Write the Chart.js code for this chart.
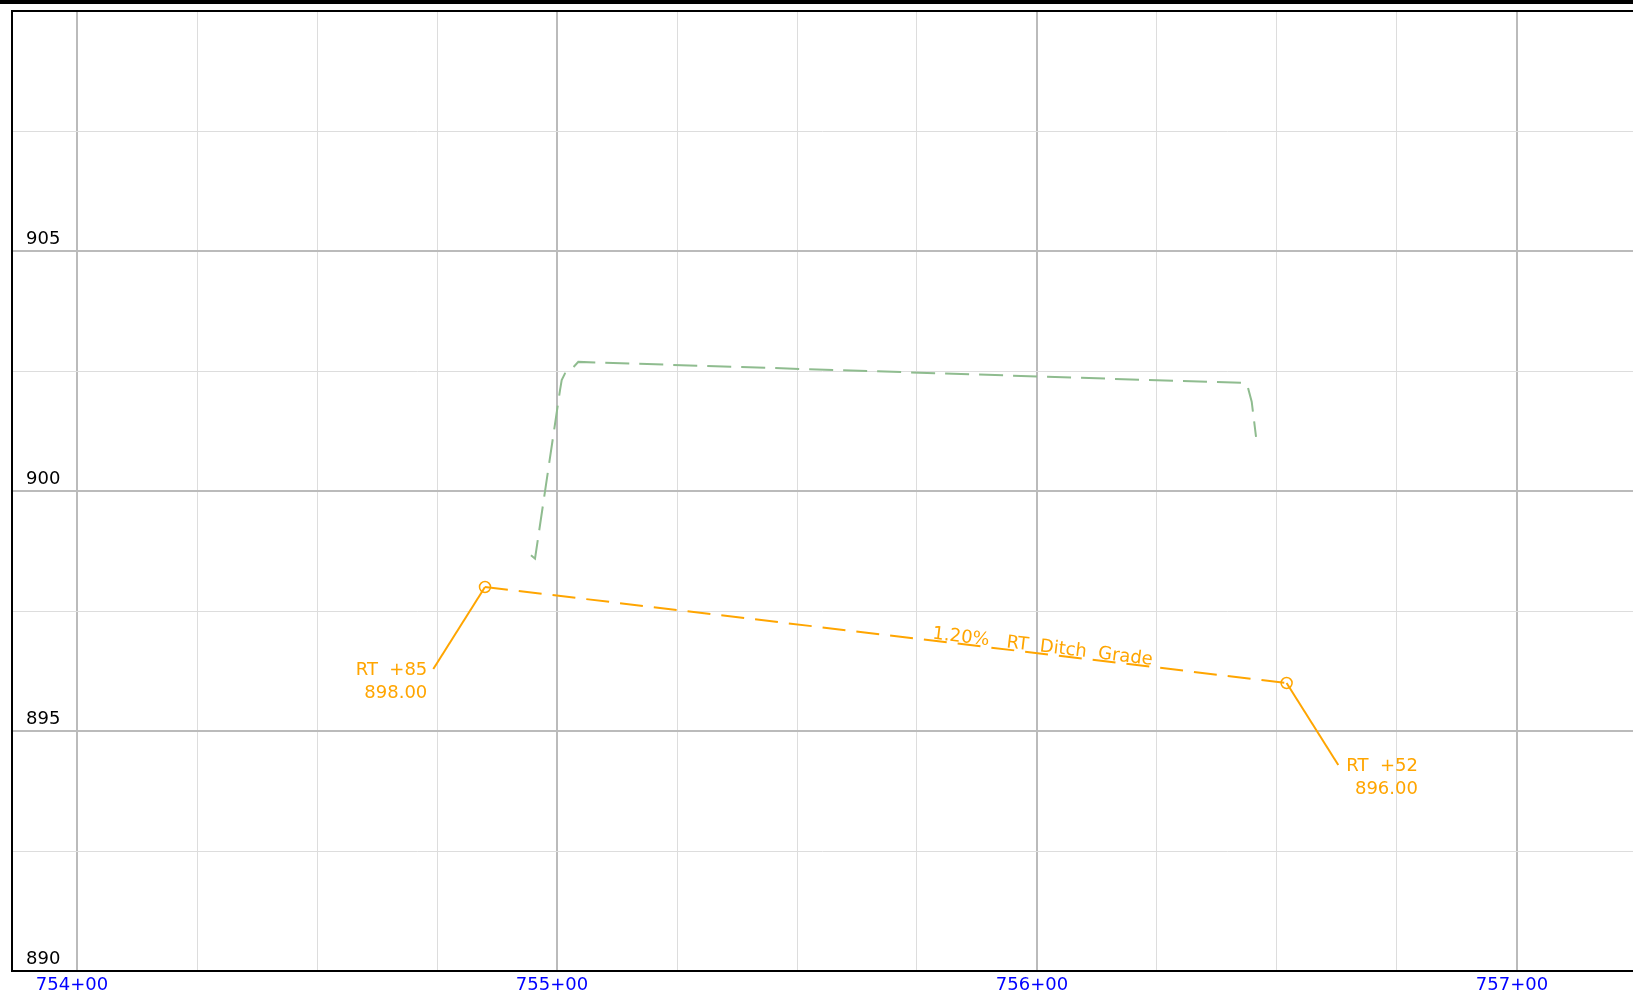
<!DOCTYPE html>
<html>
<head>
<meta charset="utf-8">
<script src="https://cdn.jsdelivr.net/npm/chart.js"></script>
<style>
  body { margin: 0; background: #fff; }
</style>
</head>
<body>
<canvas id="profile" width="1633" height="993"></canvas>
<script>
// tick labels
const xMajorStations = [75400, 75500, 75600, 75700];
const xTickLabels = ['754+00', '755+00', '756+00', '757+00'];
const yMajorElevs = [890, 895, 900, 905];
const yTickLabels = ['890', '895', '900', '905'];

// existing ground (green dashed)
const groundStations = [75494.58, 75495.42, 75500.63, 75500.98, 75501.67, 75503.06, 75504.44, 75643.33, 75643.90, 75644.73, 75645.63];
const groundElevs = [898.66, 898.59, 902.10, 902.31, 902.45, 902.54, 902.69, 902.25, 902.17, 901.86, 901.13];

// ditch grade points (orange)
const ditchStations = [75485, 75652];
const ditchElevs = [898.00, 896.00];
const leaderStations = [75474.23, 75662.77];
const leaderElevs = [896.29, 894.29];
const ditchLabels = [['RT  +85', '898.00'], ['RT  +52', '896.00']];
const gradeText = '1.20%   RT  Ditch  Grade';
const gradeLabelStation = 75601;

const orange = '#ffa500';
const green = '#8fbc8f';
const font = '"DejaVu Sans", sans-serif';

function pts(xs, ys) {
    return xs.map(function(v, i) { return {x: v, y: ys[i]}; });
}

var xGrid = [];
for (var s = 75400; s <= 75700; s += 25) xGrid.push(s);
var yGrid = [];
for (var e = 890; e < 910; e += 2.5) yGrid.push(e);

var overlay = {
    id: 'overlay',
    afterDatasetsDraw: function(chart) {
        var ctx = chart.ctx, x = chart.scales.x, y = chart.scales.y;
        var x1 = x.getPixelForValue(ditchStations[0]), y1 = y.getPixelForValue(ditchElevs[0]);
        var x2 = x.getPixelForValue(ditchStations[1]), y2 = y.getPixelForValue(ditchElevs[1]);
        ctx.save();
        ctx.font = '18px ' + font;
        ctx.fillStyle = orange;

        // grade label along the line
        var gx = x.getPixelForValue(gradeLabelStation);
        var gy = y1 + (gx - x1) * (y2 - y1) / (x2 - x1);
        ctx.save();
        ctx.translate(gx, gy);
        ctx.rotate(Math.atan2(y2 - y1, x2 - x1));
        ctx.textAlign = 'center';
        ctx.textBaseline = 'alphabetic';
        ctx.fillText(gradeText, 0, -2);
        ctx.restore();

        // point labels at leader ends
        ctx.textAlign = 'right';
        ctx.textBaseline = 'alphabetic';
        for (var i = 0; i < ditchLabels.length; i++) {
            var lx = x.getPixelForValue(leaderStations[i]);
            var ly = y.getPixelForValue(leaderElevs[i]);
            var lines = ditchLabels[i];
            var w = Math.max.apply(null, lines.map(function(t) { return ctx.measureText(t).width; }));
            var right = i == 0 ? lx - 6 : lx + 8 + w;
            for (var j = 0; j < lines.length; j++) {
                ctx.fillText(lines[j], right, ly + 6 + j * 22.5);
            }
        }
        ctx.restore();
    },
    afterDraw: function(chart) {
        var ctx = chart.ctx, a = chart.chartArea, W = chart.width;
        ctx.save();
        ctx.fillStyle = '#000';
        ctx.fillRect(0, 0, W, 4);
        ctx.fillRect(a.left - 1, a.top - 1, W, 2);
        ctx.fillRect(a.left - 1, a.top - 1, 2, a.bottom - a.top + 2);
        ctx.fillRect(a.left - 1, a.bottom - 1, W, 2);
        ctx.restore();
    }
};

var ctx = document.getElementById('profile').getContext('2d');

var hchart = new Chart(ctx, {
    type: 'scatter',
    data: {
        datasets: [
            {
                data: pts(groundStations, groundElevs),
                showLine: true,
                borderColor: green,
                borderWidth: 2,
                borderDash: [24, 10],
                pointRadius: 0
            },
            {
                data: pts(ditchStations, ditchElevs),
                showLine: true,
                borderColor: orange,
                borderWidth: 2,
                borderDash: [23, 11],
                pointRadius: 5.5,
                pointBorderWidth: 1.5,
                pointBorderColor: orange,
                pointBackgroundColor: 'rgba(0,0,0,0)'
            },
            {
                data: [{x: ditchStations[0], y: ditchElevs[0]}, {x: leaderStations[0], y: leaderElevs[0]}],
                showLine: true,
                borderColor: orange,
                borderWidth: 2,
                pointRadius: 0
            },
            {
                data: [{x: ditchStations[1], y: ditchElevs[1]}, {x: leaderStations[1], y: leaderElevs[1]}],
                showLine: true,
                borderColor: orange,
                borderWidth: 2,
                pointRadius: 0
            }
        ]
    },
    options: {
        responsive: false,
        animation: false,
        events: [],
        layout: { autoPadding: false, padding: { top: 11, left: 0, right: 0, bottom: 0 } },
        plugins: { legend: { display: false }, tooltip: { enabled: false } },
        scales: {
            x: {
                type: 'linear',
                min: 75400 - 65 / 4.8,
                max: 75400 + 1556 / 4.8,
                afterFit: function(s) {
                    s.height = 22;
                    s.paddingLeft = 0; s.paddingRight = 0;
                },
                afterBuildTicks: function(s) { s.ticks = xGrid.map(function(v) { return {value: v}; }); },
                border: { display: false },
                grid: {
                    drawTicks: false,
                    color: function(c) { return xMajorStations.indexOf(c.tick.value) >= 0 ? '#bbbbbb' : '#dddddd'; },
                    lineWidth: function(c) { return xMajorStations.indexOf(c.tick.value) >= 0 ? 2 : 1; }
                },
                ticks: {
                    autoSkip: false,
                    maxRotation: 0,
                    padding: 4,
                    labelOffset: -5,
                    color: '#0000ff',
                    font: { family: font, size: 18 },
                    callback: function(v) {
                        var i = xMajorStations.indexOf(v);
                        return i >= 0 ? xTickLabels[i] : '';
                    }
                }
            },
            y: {
                type: 'linear',
                min: 890,
                max: 910,
                afterFit: function(s) {
                    s.width = 12;
                    s.paddingTop = 0; s.paddingBottom = 0;
                },
                afterBuildTicks: function(s) { s.ticks = yGrid.map(function(v) { return {value: v}; }); },
                border: { display: false },
                grid: {
                    drawTicks: false,
                    color: function(c) { return yMajorElevs.indexOf(c.tick.value) >= 0 ? '#bbbbbb' : '#dddddd'; },
                    lineWidth: function(c) { return yMajorElevs.indexOf(c.tick.value) >= 0 ? 2 : 1; }
                },
                ticks: {
                    autoSkip: false,
                    mirror: true,
                    padding: 14,
                    labelOffset: -12,
                    color: '#000',
                    font: { family: font, size: 18 },
                    callback: function(v) {
                        var i = yMajorElevs.indexOf(v);
                        return i >= 0 ? yTickLabels[i] : '';
                    }
                }
            }
        }
    },
    plugins: [overlay]
});
</script>
</body>
</html>
